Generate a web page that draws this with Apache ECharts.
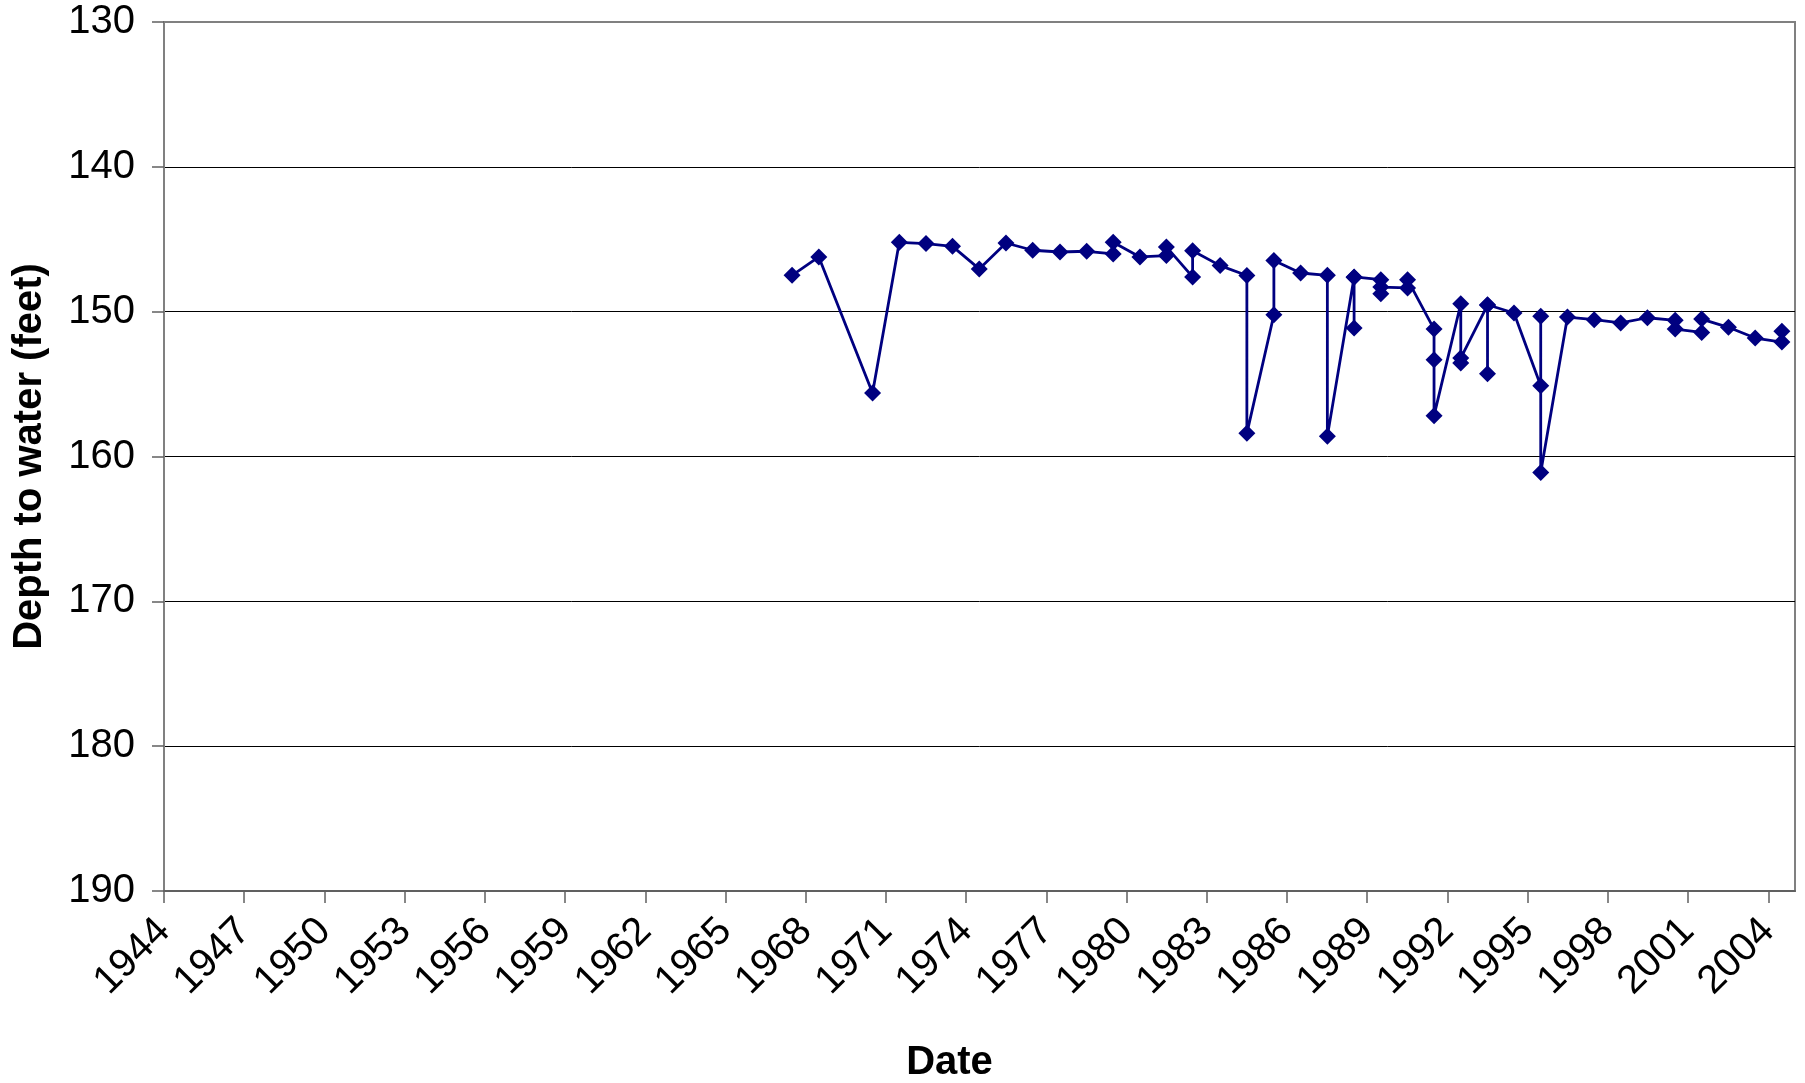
<!DOCTYPE html>
<html>
<head>
<meta charset="utf-8">
<script src="https://cdn.jsdelivr.net/npm/echarts@6/dist/echarts.min.js"></script>
<style>
html,body{margin:0;padding:0;background:#fff;}
#chart{width:1805px;height:1083px;}
</style>
</head>
<body>
<div id="chart"></div>
<script>
// Decimal year of each measurement
const years = [
  1967.49, 1968.49, 1970.50, 1971.50, 1972.50, 1973.49, 1974.49, 1975.49, 1976.49, 1977.51,
  1978.51, 1979.50, 1979.50, 1980.50, 1981.49, 1981.49, 1982.47, 1982.47, 1983.50, 1984.50,
  1984.50, 1985.51, 1985.51, 1986.51, 1987.51, 1987.51, 1988.51, 1988.51, 1988.51, 1989.51,
  1989.51, 1989.51, 1990.51, 1990.51, 1991.50, 1991.50, 1991.50, 1992.50, 1992.50, 1992.50,
  1993.50, 1993.50, 1993.50, 1994.49, 1995.49, 1995.49, 1995.49, 1996.49, 1997.49, 1998.48,
  1999.48, 2000.52, 2000.52, 2001.51, 2001.51, 2002.51, 2003.51, 2004.51, 2004.51
];
// Depth to water (feet)
const depths = [
  147.49, 146.22, 155.62, 145.21, 145.30, 145.49, 147.05, 145.26, 145.76, 145.88,
  145.83, 146.01, 145.21, 146.22, 146.13, 145.53, 147.60, 145.79, 146.82, 147.50,
  158.40, 150.21, 146.47, 147.33, 147.49, 158.61, 147.63, 151.13, 147.60, 147.79,
  148.76, 148.30, 148.36, 147.79, 151.20, 153.32, 157.18, 149.45, 153.55, 153.20,
  149.55, 154.28, 149.52, 150.09, 155.11, 150.32, 161.10, 150.37, 150.55, 150.78,
  150.42, 150.60, 151.20, 151.43, 150.51, 151.08, 151.82, 152.10, 151.36
];
const xMin = 1944, xMax = 2005, xStep = 3;
const yMin = 130, yMax = 190, yStep = 10;
const xTitle = 'Date';
const yTitle = 'Depth to water (feet)';

const FONT = '"Liberation Sans", Arial, sans-serif';
const chart = echarts.init(document.getElementById('chart'));
chart.setOption({
  animation: false,
  backgroundColor: '#ffffff',
  grid: {
    left: 164, right: 10, top: 22, bottom: 192,
    containLabel: false, outerBoundsMode: 'none',
    show: true, borderColor: '#808080', borderWidth: 2, backgroundColor: '#ffffff'
  },
  xAxis: {
    type: 'value', min: xMin, max: xMax, interval: xStep,
    name: xTitle, nameLocation: 'middle', nameGap: 152,
    nameTextStyle: {fontFamily: FONT, fontSize: 40, fontWeight: 'bold', color: '#000', padding: [0, 60, 0, 0]},
    axisLine: {show: true, lineStyle: {color: '#606060', width: 2}},
    axisTick: {show: true, length: 12, lineStyle: {color: '#606060', width: 1.5}},
    axisLabel: {
      fontFamily: FONT, fontSize: 40, color: '#000', rotate: 45, margin: 34,
      showMaxLabel: false,
      formatter: v => ((Math.round(v) - xMin) % xStep === 0 && Math.abs(v - Math.round(v)) < 1e-6) ? String(Math.round(v)) : ''
    },
    splitLine: {show: false}
  },
  yAxis: {
    type: 'value', min: yMin, max: yMax, interval: yStep, inverse: true,
    name: yTitle, nameLocation: 'middle', nameGap: 114,
    nameTextStyle: {fontFamily: FONT, fontSize: 40, fontWeight: 'bold', color: '#000'},
    axisLine: {show: true, lineStyle: {color: '#808080', width: 2}},
    axisTick: {show: true, length: 12, lineStyle: {color: '#606060', width: 1.5}},
    axisLabel: {fontFamily: FONT, fontSize: 40, color: '#000', margin: 29},
    splitLine: {show: true, showMinLine: false, showMaxLine: false, lineStyle: {color: '#000', width: 1}}
  },
  series: [{
    type: 'line',
    data: years.map((y, i) => [y, depths[i]]),
    symbol: 'diamond', symbolSize: 17,
    lineStyle: {color: '#000080', width: 2.8},
    itemStyle: {color: '#000080'},
    showAllSymbol: true,
    clip: false
  }]
});
</script>
</body>
</html>
